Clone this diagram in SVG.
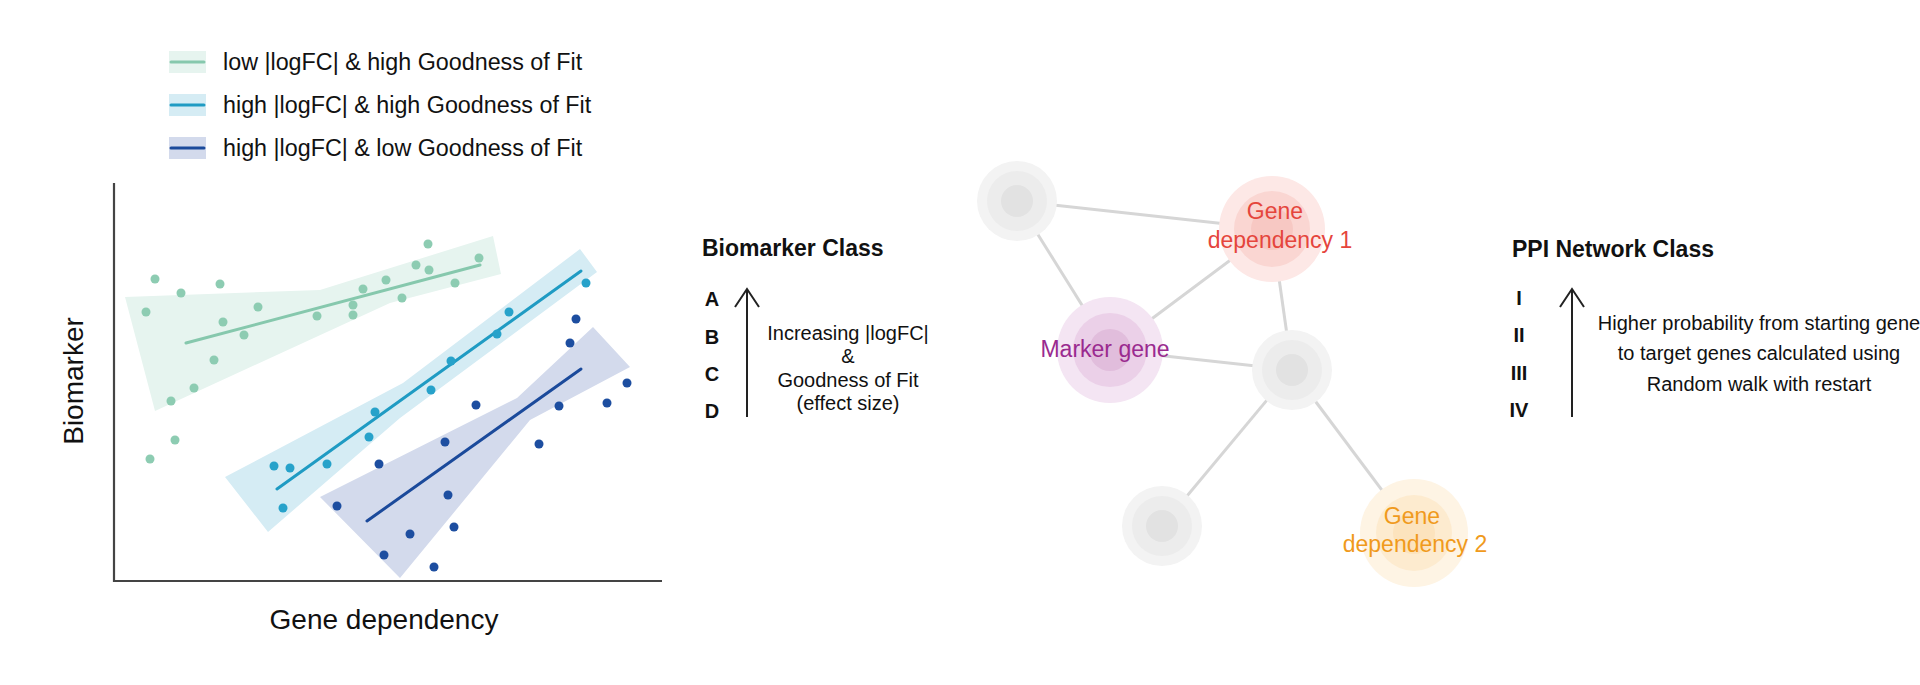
<svg xmlns="http://www.w3.org/2000/svg" width="1920" height="685" viewBox="0 0 1920 685">
<defs>
<style>
text{font-family:"Liberation Sans",Arial,Helvetica,sans-serif;fill:#111}
.leg{font-size:23.3px}
.ax{font-size:28px}
.hdr{font-size:23px;font-weight:bold}
.cls{font-size:20px;font-weight:bold;text-anchor:middle}
.desc{font-size:20px;text-anchor:middle}
.nl{font-size:23px;text-anchor:middle}
.g{fill:#8dccb2}.gl{stroke:#86c8ad;stroke-width:3;fill:none;stroke-linecap:round}.gb{fill:#e6f4ef}
.b{fill:#27a2ca}.bl{stroke:#1f9bc3;stroke-width:3;fill:none;stroke-linecap:round}.bb{fill:#d5ecf4}
.d{fill:#1d4ea0}.dl{stroke:#1b4a9b;stroke-width:3;fill:none;stroke-linecap:round}.db{fill:#d3daec}
.edge{stroke:#d6d6d6;stroke-width:3}
.arr{stroke:#222;stroke-width:2;fill:none}
</style>
</defs>
<rect width="1920" height="685" fill="#fff"/>

<g id="legend">
<rect x="169" y="51" width="37" height="22" class="gb"/><line x1="171" y1="62" x2="204" y2="62" class="gl"/>
<text x="223" y="70" class="leg">low |logFC| &amp; high Goodness of Fit</text>
<rect x="169" y="94" width="37" height="22" class="bb"/><line x1="171" y1="105" x2="204" y2="105" class="bl"/>
<text x="223" y="113" class="leg">high |logFC| &amp; high Goodness of Fit</text>
<rect x="169" y="137" width="37" height="22" class="db"/><line x1="171" y1="148" x2="204" y2="148" class="dl"/>
<text x="223" y="156" class="leg">high |logFC| &amp; low Goodness of Fit</text>
</g>

<g id="plot">
<polygon class="gb" points="125,297 320,290 493,236 501,274 390,303 155,411"/>
<polygon class="bb" points="225,477 403,383 580,249 597,272 400,418 268,532"/>
<polygon class="db" points="320,497 517,398 593,327 630,367 530,420 400,578"/>
<line x1="186" y1="343" x2="480" y2="265" class="gl"/>
<line x1="277" y1="489" x2="581" y2="271" class="bl"/>
<line x1="367" y1="521" x2="581" y2="369" class="dl"/>
<g class="g">
<circle cx="155" cy="279" r="4.5"/><circle cx="146" cy="312" r="4.5"/><circle cx="181" cy="293" r="4.5"/><circle cx="220" cy="284" r="4.5"/><circle cx="223" cy="322" r="4.5"/><circle cx="258" cy="307" r="4.5"/><circle cx="244" cy="335" r="4.5"/><circle cx="214" cy="360" r="4.5"/><circle cx="194" cy="388" r="4.5"/><circle cx="171" cy="401" r="4.5"/><circle cx="175" cy="440" r="4.5"/><circle cx="150" cy="459" r="4.5"/><circle cx="317" cy="316" r="4.5"/><circle cx="353" cy="305" r="4.5"/><circle cx="353" cy="315" r="4.5"/><circle cx="363" cy="289" r="4.5"/><circle cx="386" cy="280" r="4.5"/><circle cx="402" cy="298" r="4.5"/><circle cx="428" cy="244" r="4.5"/><circle cx="416" cy="265" r="4.5"/><circle cx="429" cy="270" r="4.5"/><circle cx="455" cy="283" r="4.5"/><circle cx="479" cy="258" r="4.5"/>
</g>
<g class="b">
<circle cx="586" cy="283" r="4.5"/><circle cx="509" cy="312" r="4.5"/><circle cx="497" cy="334" r="4.5"/><circle cx="451" cy="361" r="4.5"/><circle cx="431" cy="390" r="4.5"/><circle cx="375" cy="412" r="4.5"/><circle cx="369" cy="437" r="4.5"/><circle cx="327" cy="464" r="4.5"/><circle cx="290" cy="468" r="4.5"/><circle cx="274" cy="466" r="4.5"/><circle cx="283" cy="508" r="4.5"/>
</g>
<g class="d">
<circle cx="576" cy="319" r="4.5"/><circle cx="570" cy="343" r="4.5"/><circle cx="627" cy="383" r="4.5"/><circle cx="607" cy="403" r="4.5"/><circle cx="559" cy="406" r="4.5"/><circle cx="476" cy="405" r="4.5"/><circle cx="445" cy="442" r="4.5"/><circle cx="539" cy="444" r="4.5"/><circle cx="448" cy="495" r="4.5"/><circle cx="454" cy="527" r="4.5"/><circle cx="410" cy="534" r="4.5"/><circle cx="434" cy="567" r="4.5"/><circle cx="379" cy="464" r="4.5"/><circle cx="337" cy="506" r="4.5"/><circle cx="384" cy="555" r="4.5"/>
</g>
<polyline points="114,183 114,581 662,581" fill="none" stroke="#444" stroke-width="2.2"/>
<text x="384" y="629" class="ax" text-anchor="middle">Gene dependency</text>
<text transform="translate(83,381) rotate(-90)" class="ax" text-anchor="middle">Biomarker</text>
</g>

<g id="biomarker-class">
<text x="702" y="256" class="hdr">Biomarker Class</text>
<text x="712" y="306" class="cls">A</text>
<text x="712" y="344" class="cls">B</text>
<text x="712" y="381" class="cls">C</text>
<text x="712" y="418" class="cls">D</text>
<line x1="747" y1="289" x2="747" y2="417" class="arr"/>
<polyline points="735,307 747,289 759,307" class="arr"/>
<text x="848" y="340" class="desc">Increasing |logFC|</text>
<text x="848" y="363" class="desc">&amp;</text>
<text x="848" y="387" class="desc">Goodness of Fit</text>
<text x="848" y="410" class="desc">(effect size)</text>
</g>

<g id="connectors">
<line x1="1017" y1="201" x2="1272" y2="229" class="edge"/>
<line x1="1017" y1="201" x2="1110" y2="350" class="edge"/>
<line x1="1110" y1="350" x2="1272" y2="229" class="edge"/>
<line x1="1272" y1="229" x2="1292" y2="370" class="edge"/>
<line x1="1110" y1="350" x2="1292" y2="370" class="edge"/>
<line x1="1292" y1="370" x2="1162" y2="526" class="edge"/>
<line x1="1292" y1="370" x2="1414" y2="533" class="edge"/>
</g>

<g id="node-grey-1">
<circle cx="1017" cy="201" r="40" fill="#f3f3f3"/><circle cx="1017" cy="201" r="30" fill="#ececec"/><circle cx="1017" cy="201" r="16" fill="#e2e2e2"/>
</g>
<g id="node-gene-dependency-1">
<circle cx="1272" cy="229" r="53" fill="#fde8e6"/><circle cx="1272" cy="229" r="38" fill="#fad6d2"/><circle cx="1272" cy="229" r="21" fill="#f7c8c3"/>
<text x="1275" y="219" class="nl" style="fill:#e5453c">Gene</text>
<text x="1280" y="248" class="nl" style="fill:#e5453c">dependency 1</text>
</g>
<g id="node-marker-gene">
<circle cx="1110" cy="350" r="53" fill="#f4e5f3"/><circle cx="1110" cy="350" r="37" fill="#ebd0e8"/><circle cx="1110" cy="350" r="21" fill="#e1bddc"/>
<text x="1105" y="357" class="nl" style="fill:#9a2a8f">Marker gene</text>
</g>
<g id="node-grey-2">
<circle cx="1292" cy="370" r="40" fill="#f3f3f3"/><circle cx="1292" cy="370" r="30" fill="#ececec"/><circle cx="1292" cy="370" r="16" fill="#e2e2e2"/>
</g>
<g id="node-grey-3">
<circle cx="1162" cy="526" r="40" fill="#f3f3f3"/><circle cx="1162" cy="526" r="30" fill="#ececec"/><circle cx="1162" cy="526" r="16" fill="#e2e2e2"/>
</g>
<g id="node-gene-dependency-2">
<circle cx="1414" cy="533" r="54" fill="#fef4e4"/><circle cx="1414" cy="533" r="38" fill="#fdebcf"/><circle cx="1414" cy="533" r="21" fill="#fce3bd"/>
<text x="1412" y="524" class="nl" style="fill:#f09a1c">Gene</text>
<text x="1415" y="552" class="nl" style="fill:#f09a1c">dependency 2</text>
</g>

<g id="ppi-class">
<text x="1512" y="257" class="hdr">PPI Network Class</text>
<text x="1519" y="305" class="cls">I</text>
<text x="1519" y="342" class="cls">II</text>
<text x="1519" y="380" class="cls">III</text>
<text x="1519" y="417" class="cls">IV</text>
<line x1="1572" y1="289" x2="1572" y2="417" class="arr"/>
<polyline points="1560,307 1572,289 1584,307" class="arr"/>
<text x="1759" y="330" class="desc">Higher probability from starting gene</text>
<text x="1759" y="360" class="desc">to target genes calculated using</text>
<text x="1759" y="391" class="desc">Random walk with restart</text>
</g>
</svg>
